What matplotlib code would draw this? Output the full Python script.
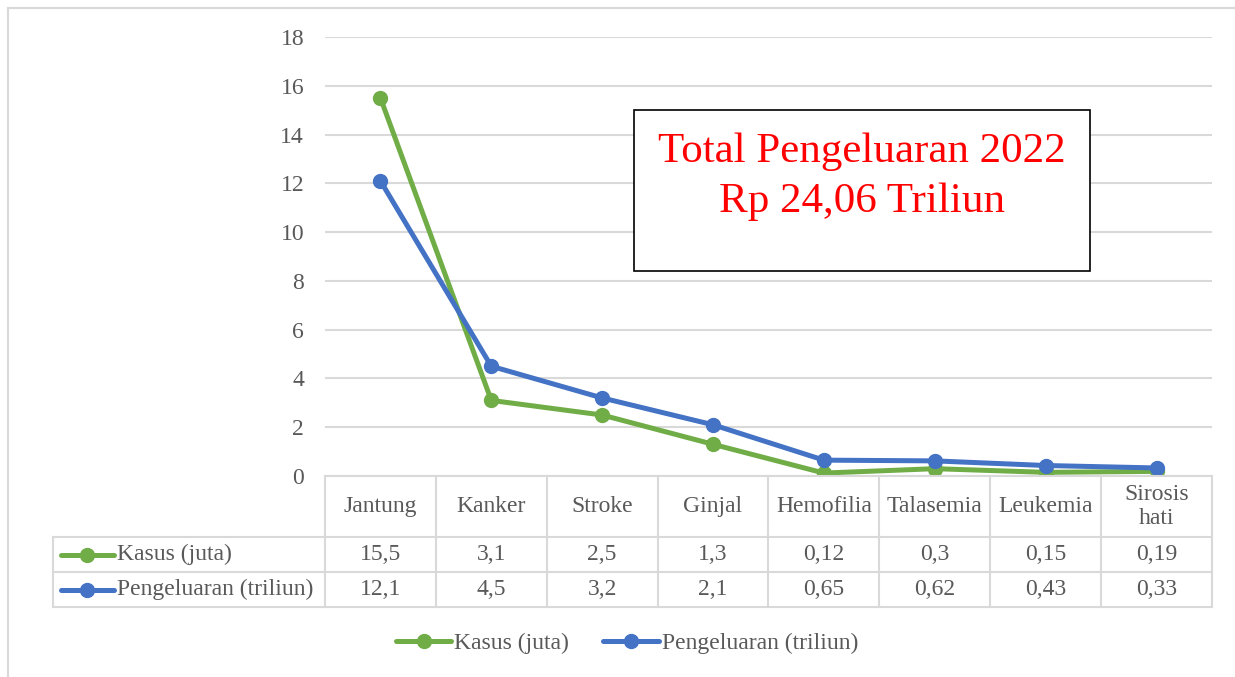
"""Kasus dan pengeluaran penyakit katastropik 2022"""
import matplotlib
matplotlib.use('Agg')
import matplotlib.pyplot as plt
from matplotlib.lines import Line2D
from matplotlib.patches import Rectangle
from matplotlib.transforms import blended_transform_factory


categories = ['Jantung', 'Kanker', 'Stroke', 'Ginjal', 'Hemofilia',
              'Talasemia', 'Leukemia', 'Sirosis\nhati']
kasus = [15.5, 3.1, 2.5, 1.3, 0.12, 0.3, 0.15, 0.19]
pengeluaran = [12.1, 4.5, 3.2, 2.1, 0.65, 0.62, 0.43, 0.33]
kasus_labels = ['15,5', '3,1', '2,5', '1,3', '0,12', '0,3', '0,15', '0,19']
pengeluaran_labels = ['12,1', '4,5', '3,2', '2,1', '0,65', '0,62', '0,43', '0,33']
series_names = ['Kasus (juta)', 'Pengeluaran (triliun)']
y_ticks = [0, 2, 4, 6, 8, 10, 12, 14, 16, 18]

GREEN = '#70ad47'
BLUE = '#4472c4'
GRID = '#d9d9d9'
TEXT = '#595959'
LW = 3.6
MS = 10

plt.rcParams['font.family'] = ['Liberation Serif', 'DejaVu Serif']

W, H = 1235, 677
fig = plt.figure(figsize=(W / 100, H / 100), dpi=100)


def fx(px):
    return px / W


def fy(py):
    return 1 - py / H


# outer chart frame (only left and top edges visible)
fig.add_artist(Line2D([fx(8), fx(8)], [fy(8), 0], color=GRID, lw=1.5))
fig.add_artist(Line2D([fx(8), 1], [fy(8), fy(8)], color=GRID, lw=1.5))

ax = fig.add_axes([fx(325), fy(476), fx(1212) - fx(325), fy(37) - fy(476)])
x = list(range(len(categories)))

ax.plot(x, kasus, color=GREEN, lw=LW, marker='o', markersize=MS,
        label=series_names[0], solid_capstyle='round')
ax.plot(x, pengeluaran, color=BLUE, lw=LW, marker='o', markersize=MS,
        label=series_names[1], solid_capstyle='round')

ax.set_xlim(-0.5, len(categories) - 0.5)
ax.set_ylim(0, 18)
ax.set_yticks(y_ticks)
ax.set_yticklabels([str(t) for t in y_ticks], fontsize=17, color=TEXT)
ax.set_xticks([])
ax.tick_params(axis='y', length=0, pad=15)
ax.grid(axis='y', color=GRID, lw=1.5)
ax.set_axisbelow(True)
for side in ['top', 'right', 'left']:
    ax.spines[side].set_visible(False)
ax.spines['bottom'].set_color(GRID)
ax.spines['bottom'].set_linewidth(1.5)

# data table below the axis
trans = blended_transform_factory(ax.transData, ax.transAxes)
ax_w = 1212 - 325
ax_h = 476 - 37


def ax_x(px):
    return (px - 325) / ax_w


def ay(py):
    return (476 - py) / ax_h


header_bottom, row1_bottom, row2_bottom = ay(537), ay(572), ay(607)
left_col = ax_x(53)
line_kw = dict(color=GRID, lw=1.5, clip_on=False)

for i in range(len(categories) + 1):
    ax.plot([i - 0.5, i - 0.5], [0, row2_bottom], transform=trans, **line_kw)
for yy in [header_bottom, row1_bottom, row2_bottom]:
    ax.plot([left_col, 1], [yy, yy], transform=ax.transAxes, **line_kw)
ax.plot([left_col, left_col], [header_bottom, row2_bottom],
        transform=ax.transAxes, **line_kw)

for i, cat in enumerate(categories):
    ax.text(i, (0 + header_bottom) / 2, cat, transform=trans, ha='center',
            va='center', fontsize=17, color=TEXT, linespacing=1.15)
    ax.text(i, (header_bottom + row1_bottom) / 2, kasus_labels[i],
            transform=trans, ha='center', va='center', fontsize=17, color=TEXT)
    ax.text(i, (row1_bottom + row2_bottom) / 2, pengeluaran_labels[i],
            transform=trans, ha='center', va='center', fontsize=17, color=TEXT)

# row labels with legend keys
for name, color, top, bot in [(series_names[0], GREEN, header_bottom, row1_bottom),
                              (series_names[1], BLUE, row1_bottom, row2_bottom)]:
    yc = (top + bot) / 2
    ax.add_line(Line2D([ax_x(61), ax_x(114)], [yc, yc],
                       transform=ax.transAxes, color=color, lw=LW,
                       solid_capstyle='round', clip_on=False))
    ax.add_line(Line2D([ax_x(87)], [yc], transform=ax.transAxes,
                       color=color, marker='o', markersize=MS, clip_on=False))
    ax.text(ax_x(117), yc, name, transform=ax.transAxes, ha='left',
            va='center', fontsize=17, color=TEXT)

# bottom legend
fig.legend(loc='center', bbox_to_anchor=(fx(627), fy(643)), ncol=2,
           frameon=False, fontsize=17, handlelength=2.35, handletextpad=0.12,
           columnspacing=1.45, labelcolor=TEXT)

# annotation box
fig.add_artist(Rectangle((fx(634), fy(271)), fx(1090) - fx(634),
                         fy(110) - fy(271), facecolor='white',
                         edgecolor='black', lw=1.2, zorder=5))
fig.text(fx(862), fy(162), 'Total Pengeluaran 2022', ha='center',
         va='baseline', fontsize=31, color='red', zorder=6)
fig.text(fx(862), fy(212), 'Rp 24,06 Triliun', ha='center',
         va='baseline', fontsize=31, color='red', zorder=6)

fig.savefig('out.png', dpi=100, facecolor='white')
